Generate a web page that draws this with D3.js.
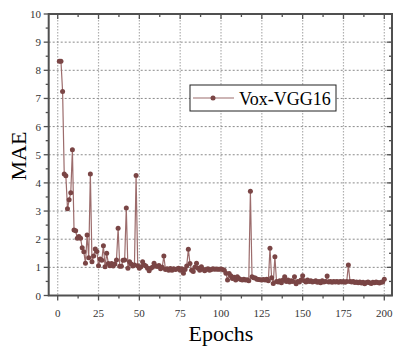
<!DOCTYPE html>
<html>
<head>
<meta charset="utf-8">
<script src="https://cdn.jsdelivr.net/npm/d3@7"></script>
<style>
  body { margin: 0; background: #fff; }
  svg { display: block; font-family: "Liberation Serif", "Times New Roman", serif; }
</style>
</head>
<body>
<div id="chart"></div>
<script>
// MAE per epoch, epochs 1..200
const seriesName = "Vox-VGG16";
const mae = [
  8.32, 8.32, 7.25, 4.32, 4.25, 3.08, 3.40, 3.65, 5.18, 2.33,
  2.30, 2.03, 2.10, 2.03, 1.70, 1.55, 1.15, 2.15, 1.34, 4.32,
  1.20, 1.40, 1.65, 1.56, 1.06, 1.30, 1.25, 1.77, 1.02, 1.50,
  1.14, 1.06, 1.14, 1.05, 1.12, 1.26, 2.39, 1.04, 1.04, 1.25,
  1.26, 3.11, 0.97, 1.20, 1.12, 1.05, 1.08, 4.26, 1.06, 0.97,
  1.02, 1.20, 1.08, 1.05, 0.97, 0.88, 0.97, 1.00, 1.15, 1.05,
  1.03, 1.07, 0.95, 1.00, 1.40, 0.92, 0.95, 0.90, 0.96, 0.90,
  0.95, 0.92, 0.94, 0.97, 0.90, 0.95, 0.79, 0.92, 1.05, 1.64,
  1.14, 0.90, 0.85, 1.00, 1.15, 0.97, 0.90, 1.02, 0.93, 0.88,
  0.92, 0.95, 0.90, 0.92, 0.95, 0.93, 0.94, 0.93, 0.93, 0.94,
  0.92, 0.90, 0.79, 0.55, 0.78, 0.70, 0.60, 0.65, 0.55, 0.67,
  0.60, 0.57, 0.55, 0.58, 0.55, 0.56, 0.52, 3.70, 0.67, 0.63,
  0.62, 0.58, 0.57, 0.56, 0.55, 0.57, 0.55, 0.58, 0.52, 1.68,
  0.63, 0.43, 1.38, 0.50, 0.48, 0.52, 0.45, 0.55, 0.67, 0.50,
  0.55, 0.48, 0.52, 0.50, 0.67, 0.42, 0.50, 0.48, 0.55, 0.70,
  0.52, 0.48, 0.55, 0.50, 0.52, 0.48, 0.50, 0.52, 0.47, 0.50,
  0.45, 0.52, 0.48, 0.50, 0.69, 0.48, 0.50, 0.47, 0.50, 0.48,
  0.50, 0.47, 0.50, 0.48, 0.50, 0.47, 0.50, 1.08, 0.50, 0.48,
  0.50, 0.46, 0.48, 0.45, 0.48, 0.44, 0.47, 0.42, 0.46, 0.48,
  0.45, 0.43, 0.47, 0.45, 0.48, 0.46, 0.44, 0.47, 0.48, 0.58
];
const epochs = mae.map((d, i) => i + 1);
const xTicks = [0, 25, 50, 75, 100, 125, 150, 175, 200];
const yTicks = [0, 1, 2, 3, 4, 5, 6, 7, 8, 9, 10];

const width = 398, height = 349;
const frame = {left: 48.7, right: 392, top: 14, bottom: 295.5};

const svg = d3.select("#chart").append("svg")
  .attr("width", width)
  .attr("height", height);

const x = d3.scaleLinear().domain([0, 200]).range([57.7, 384.3]);
const y = d3.scaleLinear().domain([0, 10]).range([frame.bottom, frame.top]);

const axisColor = "#505050";

// grid
svg.append("g")
  .selectAll("line")
  .data(xTicks)
  .join("line")
    .attr("x1", d => x(d)).attr("x2", d => x(d))
    .attr("y1", frame.top).attr("y2", frame.bottom)
    .attr("stroke", "#b0b0b0")
    .attr("stroke-width", 1.2)
    .attr("stroke-dasharray", "1.5,1.5");

svg.append("g")
  .selectAll("line")
  .data(yTicks.filter(d => d > 0 && d < 10))
  .join("line")
    .attr("x1", frame.left).attr("x2", frame.right)
    .attr("y1", d => y(d)).attr("y2", d => y(d))
    .attr("stroke", "#8a8a8a")
    .attr("stroke-width", 1)
    .attr("stroke-dasharray", "2,2");

// ticks: bottom/left outward, top/right inward
const xMinor = d3.range(-12.5 + 12.5, 212.5, 12.5).filter(d => d % 25 !== 0);
const yMinor = d3.range(0.5, 10, 1);
const ticks = svg.append("g").attr("stroke", axisColor).attr("stroke-width", 1.3);

xTicks.forEach(d => {
  ticks.append("line").attr("x1", x(d)).attr("x2", x(d)).attr("y1", frame.bottom).attr("y2", frame.bottom + 5);
  ticks.append("line").attr("x1", x(d)).attr("x2", x(d)).attr("y1", frame.top).attr("y2", frame.top + 5);
});
xMinor.forEach(d => {
  ticks.append("line").attr("x1", x(d)).attr("x2", x(d)).attr("y1", frame.bottom).attr("y2", frame.bottom + 3);
  ticks.append("line").attr("x1", x(d)).attr("x2", x(d)).attr("y1", frame.top).attr("y2", frame.top + 3);
});
yTicks.forEach(d => {
  ticks.append("line").attr("y1", y(d)).attr("y2", y(d)).attr("x1", frame.left).attr("x2", frame.left - 5);
  ticks.append("line").attr("y1", y(d)).attr("y2", y(d)).attr("x1", frame.right).attr("x2", frame.right - 5);
});
yMinor.forEach(d => {
  ticks.append("line").attr("y1", y(d)).attr("y2", y(d)).attr("x1", frame.left).attr("x2", frame.left - 3);
  ticks.append("line").attr("y1", y(d)).attr("y2", y(d)).attr("x1", frame.right).attr("x2", frame.right - 3);
});

// frame
svg.append("rect")
  .attr("x", frame.left).attr("y", frame.top)
  .attr("width", frame.right - frame.left)
  .attr("height", frame.bottom - frame.top)
  .attr("fill", "none")
  .attr("stroke", axisColor)
  .attr("stroke-width", 2);

// tick labels
svg.append("g")
  .selectAll("text")
  .data(xTicks)
  .join("text")
    .attr("x", d => x(d))
    .attr("y", 317)
    .attr("text-anchor", "middle")
    .style("font-size", "11px")
    .attr("fill", "#333")
    .text(d => d);

svg.append("g")
  .selectAll("text")
  .data(yTicks)
  .join("text")
    .attr("x", 41)
    .attr("y", d => y(d) + 4)
    .attr("text-anchor", "end")
    .style("font-size", "11px")
    .attr("fill", "#333")
    .text(d => d);

// axis titles
svg.append("text")
  .attr("x", 221)
  .attr("y", 341)
  .attr("text-anchor", "middle")
  .style("font-size", "22px")
  .text("Epochs");

svg.append("text")
  .attr("transform", "translate(26,156) rotate(-90)")
  .attr("text-anchor", "middle")
  .style("font-size", "22px")
  .text("MAE");

// series
const lineColor = "#9c6c6c";
const markColor = "#7a4545";

svg.append("path")
  .datum(mae)
  .attr("fill", "none")
  .attr("stroke", lineColor)
  .attr("stroke-width", 1.2)
  .attr("d", d3.line().x((d, i) => x(epochs[i])).y(d => y(d)));

svg.append("g")
  .selectAll("circle")
  .data(mae)
  .join("circle")
    .attr("cx", (d, i) => x(epochs[i]))
    .attr("cy", d => y(d))
    .attr("r", 2.5)
    .attr("fill", markColor);

// legend
const legend = svg.append("g");
legend.append("rect")
  .attr("x", 190).attr("y", 85)
  .attr("width", 146).attr("height", 26)
  .attr("fill", "#fff")
  .attr("stroke", "#222")
  .attr("stroke-width", 1);
legend.append("line")
  .attr("x1", 193).attr("x2", 234)
  .attr("y1", 98).attr("y2", 98)
  .attr("stroke", lineColor).attr("stroke-width", 1.2);
legend.append("circle")
  .attr("cx", 213).attr("cy", 98).attr("r", 2.5)
  .attr("fill", markColor);
legend.append("text")
  .attr("x", 239).attr("y", 104.5)
  .style("font-size", "18px")
  .text(seriesName);
</script>
</body>
</html>
